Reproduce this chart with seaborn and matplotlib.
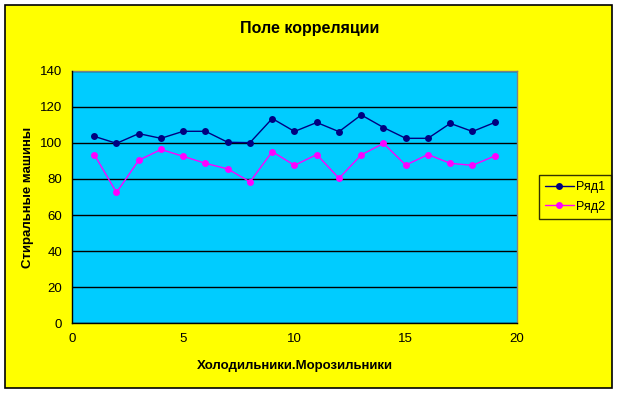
import pandas as pd
import matplotlib
matplotlib.use("Agg")
import matplotlib.pyplot as plt
import seaborn as sns

# Values
x_vals = list(range(1, 20))
row1 = [103.7, 99.8, 105.2, 102.6, 106.5, 106.5, 100.4, 100.2, 113.6, 106.4,
        111.4, 106.3, 115.6, 108.6, 102.6, 102.6, 110.9, 106.4, 111.4]
row2 = [93.6, 72.5, 90.4, 96.4, 92.6, 88.7, 85.6, 78.4, 95.2, 87.6,
        93.6, 80.4, 93.4, 99.8, 87.7, 93.6, 88.7, 87.6, 92.8]
series_names = ["Ряд1", "Ряд2"]

data = pd.DataFrame({
    "x": x_vals * 2,
    "y": row1 + row2,
    "series": [series_names[0]] * len(x_vals) + [series_names[1]] * len(x_vals),
})

sns.set_style("white")
plt.rcParams["font.family"] = ["Liberation Sans", "DejaVu Sans"]
plt.rcParams["text.color"] = "black"
plt.rcParams["axes.labelcolor"] = "black"
plt.rcParams["xtick.color"] = "black"
plt.rcParams["ytick.color"] = "black"

fig = plt.figure(figsize=(6.19, 3.94), dpi=100, facecolor="white")
# yellow chart area with black border, behind the axes
border = plt.Rectangle((5 / 619, 1 - 388 / 394), 607 / 619, 383 / 394,
                       transform=fig.transFigure, facecolor="#FFFF00",
                       edgecolor="black", linewidth=1.2, zorder=-10)
fig.add_artist(border)

ax = fig.add_axes([0.1163, 0.1802, 0.7189, 0.6396])
ax.set_facecolor("#00CCFF")

sns.lineplot(data=data, x="x", y="y", hue="series",
             palette=["#000080", "#FF00FF"], marker="o", markersize=5,
             markeredgewidth=0, linewidth=1, ax=ax)

ax.set_xlim(0, 20)
ax.set_ylim(0, 140)
ax.set_xticks([0, 5, 10, 15, 20])
ax.set_yticks(range(0, 141, 20))
ax.grid(axis="y", color="black", linewidth=1)
ax.set_axisbelow(True)
for side in ["top", "right"]:
    ax.spines[side].set_color("#808080")
    ax.spines[side].set_linewidth(1)
for side in ["left", "bottom"]:
    ax.spines[side].set_color("black")
    ax.spines[side].set_linewidth(1)
    ax.spines[side].set_zorder(5)
ax.tick_params(axis="both", direction="out", length=4, width=1,
               color="black", labelsize=9.5, pad=3)

ax.set_xlabel("Холодильники.Морозильники", fontsize=9.5, fontweight="bold", labelpad=11)
ax.set_ylabel("Стиральные машины", fontsize=9.5, fontweight="bold", labelpad=4)
fig.text(0.5, 1 - 28 / 394, "Поле корреляции", ha="center", va="center",
         fontsize=11.5, fontweight="bold")

leg = ax.legend(loc="center left", bbox_to_anchor=(1.04, 0.5), frameon=True,
                fontsize=9, handlelength=2.3, borderpad=0.5, labelspacing=0.6,
                fancybox=False, handletextpad=0.2, borderaxespad=0.3)
leg.get_frame().set_edgecolor("black")
leg.get_frame().set_facecolor("#FFFF00")
leg.get_frame().set_linewidth(1)

fig.savefig("out.png", dpi=100, facecolor=fig.get_facecolor())
